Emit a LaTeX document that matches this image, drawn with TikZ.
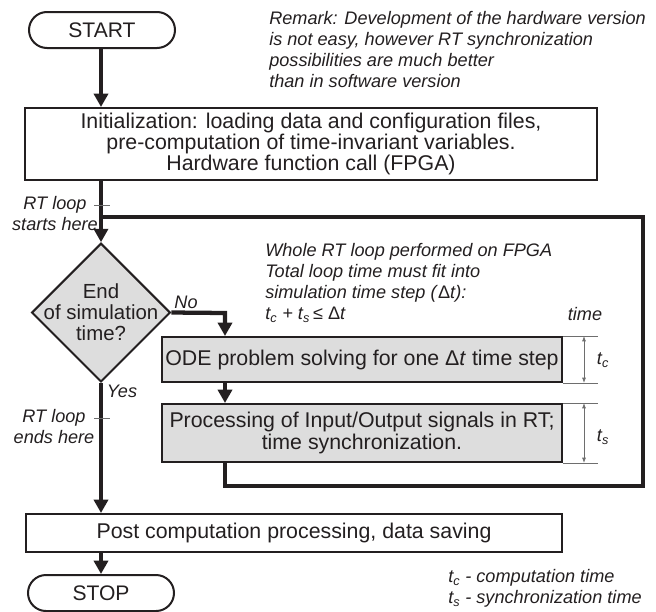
\documentclass[tikz,border=0pt]{standalone}
\usepackage{fontspec}
\setmainfont{Liberation Sans}
\usepackage{tikz}
\usetikzlibrary{arrows.meta,shapes.geometric,shapes.misc}

\definecolor{ink}{RGB}{35,31,32}
\definecolor{boxgray}{RGB}{221,221,221}
\definecolor{markgray}{RGB}{110,110,110}

\tikzset{
  term/.style={draw=ink,line width=1.5pt,rounded rectangle,minimum width=109.5pt,minimum height=27pt,inner sep=0pt,font=\fontsize{15.8}{16}\selectfont},
  plainbox/.style={draw=ink,line width=1.5pt,fill=white,rectangle,inner sep=0pt,align=center,font=\fontsize{16}{16}\selectfont},
  loopbox/.style={plainbox,fill=boxgray},
  decision/.style={draw=ink,line width=1.5pt,fill=boxgray,diamond,minimum width=104pt,minimum height=104pt,inner sep=0pt},
  note/.style={inner sep=0pt,align=left,text=ink,font=\fontsize{13.6}{15.75}\selectfont\itshape},
  flow/.style={draw=ink,line width=3.2pt,-{Triangle[length=10pt,width=10.5pt]}},
  loopline/.style={draw=ink,line width=3.2pt},
  tick/.style={draw=markgray,line width=0.6pt},
  span/.style={draw=markgray,line width=0.6pt,{Latex[length=4pt,width=3pt]}-{Latex[length=4pt,width=3pt]}}
}

\begin{document}
\begin{tikzpicture}[x=0.75pt,y=-0.75pt,text=ink]
    \useasboundingbox (0,0) rectangle (656,611);

    % main column
    \node (start) at (102,30)[term] {START};
    \node (init) at (311,144)[plainbox,minimum width=429pt,minimum height=54pt]
        {Initialization: loading data and configuration files,\\pre-computation of time-invariant variables.\\Hardware function call (FPGA)};
    \node (dec) at (101,312.5)[decision,label={[align=center,font=\fontsize{15.3}{15.75}\selectfont]center:End\\of simulation\\time?}] {};
    \node (ode) at (362,359.5)[loopbox,minimum width=300pt,minimum height=33.75pt]
        {ODE problem solving for one \textup{Δ}\textit{t} time step};
    \node (proc) at (362,433)[loopbox,minimum width=300pt,minimum height=43.5pt]
        {Processing of Input/Output signals in RT;\\time synchronization.};
    \node (post) at (294,533)[plainbox,minimum width=402pt,minimum height=28.5pt]
        {Post computation processing, data saving};
    \node (stop) at (101,593)[term] {STOP};

    % notes
    \node (remark) at (269,11)[note,anchor=north west]
        {Remark: Development of the hardware version\\is not easy, however RT synchronization\\possibilities are much better\\than in software version};
    \node (fpga) at (265,243)[note,anchor=north west]
        {Whole RT loop performed on FPGA\\Total loop time must fit into\\simulation time step (\textup{Δ}t):\\t\textsubscript{c} + t\textsubscript{s}\,\textup{≤ Δ}t};
    \node (time) at (585,314)[note] {time};
    \node (legend) at (448,569)[note,anchor=north west]
        {t\textsubscript{c} - computation time\\t\textsubscript{s} - synchronization time};
    \node (rtbeg) at (55,214)[note,align=center] {RT loop\\starts here};
    \node (rtend) at (54,427)[note,align=center] {RT loop\\ends here};
    \node (no) at (186,302)[note] {No};
    \node (yes) at (122,391)[note] {Yes};

    % loop corners
    \coordinate (join) at (101,217);
    \coordinate (nobend) at (225,313);
    \coordinate (lp1) at (643,217);
    \coordinate (lp2) at (643,486);
    \coordinate (lp3) at (225,486);

    \draw [flow] (start.south -| join) -- (init.north -| join);
    \draw [flow] (init.south -| join) -- (dec.north);
    \draw [loopline] (proc.south -| lp3) -- (lp3) -- (lp2) -- (lp1) -- (join);
    \draw [flow] (dec.east) -- (nobend) -- (ode.north -| nobend);
    \draw [flow] (ode.south -| nobend) -- (proc.north -| nobend);
    \draw [flow] (dec.south) -- (post.north -| dec.south);
    \draw [flow] (post.south -| stop) -- (stop.north);

    % marks for loop start/end
    \draw [tick] (94,205) -- (110,205);
    \draw [tick] (94,418) -- (110,418);

    % time scale
    \coordinate (tm) at (584,0);
    \coordinate (tr) at (598,0);
    \foreach \a in {ode.north east,ode.south east,proc.north east,proc.south east}
        \draw [tick] (\a) -- (\a -| tr);
    \draw [span] (ode.north -| tm) -- (ode.south -| tm);
    \draw [span] (proc.north -| tm) -- (proc.south -| tm);
    \node (tc) at (603,360)[note] {t\textsubscript{c}};
    \node (ts) at (603,437)[note] {t\textsubscript{s}};
\end{tikzpicture}
\end{document}
